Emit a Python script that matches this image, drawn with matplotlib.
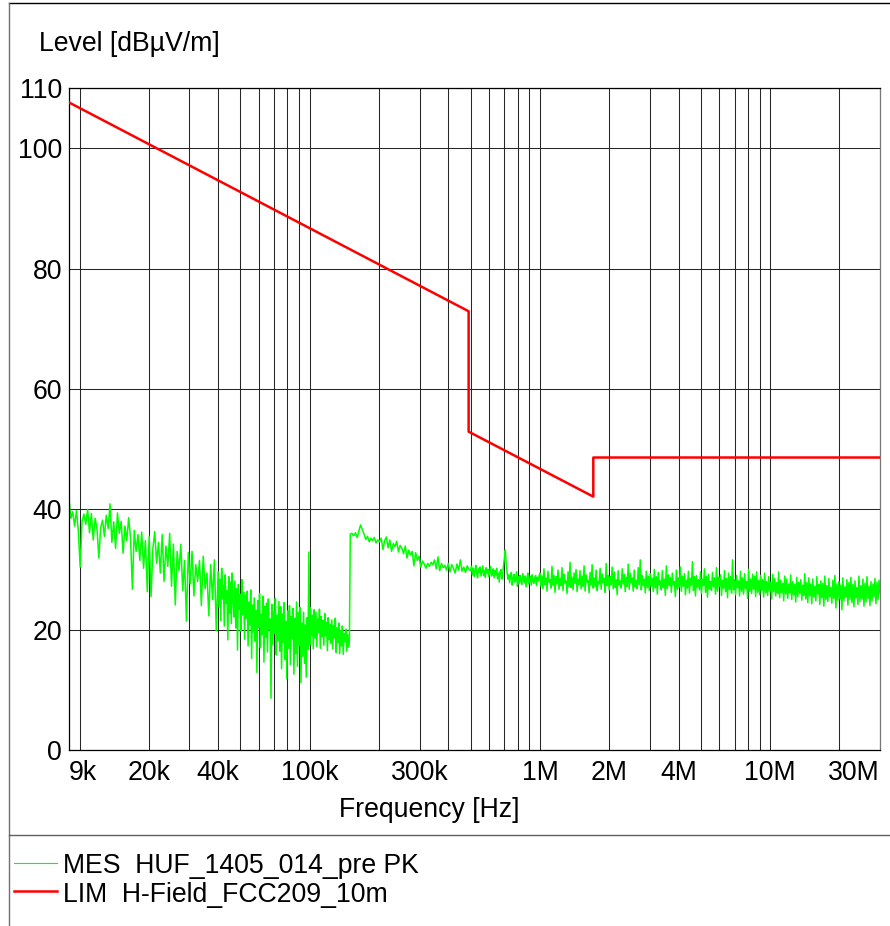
import numpy as np
import matplotlib
matplotlib.use('Agg')
import matplotlib.pyplot as plt
from matplotlib.lines import Line2D

plt.rcParams['font.family'] = ['Liberation Sans', 'DejaVu Sans']

# Limit line H-Field FCC 15.209 @ 10 m (frequency in Hz, level in dBuV/m)
lim_freq = [9e3, 490e3, 490e3, 1.705e6, 1.705e6, 30e6]
lim_level = [107.6, 72.9, 52.9, 42.1, 48.6, 48.6]

# Peak scan, split into sweeps (start Hz, stop Hz, levels in dBuV/m)
sweep_start = [9e3, 40e3, 150e3, 500e3, 1e6]
sweep_stop = [40e3, 150e3, 500e3, 1e6, 30e6]

lev_9k_40k = [
    41.7, 38.5, 39.6, 37.2, 39.8, 36.4, 30.4, 38.0, 39.2, 37.5,
    40.0, 36.1, 39.3, 34.9, 38.5, 36.8, 31.9, 37.0, 38.2, 35.5,
    39.0, 36.8, 40.9, 34.5, 37.9, 33.5, 39.4, 36.0, 38.0, 32.7,
    37.2, 34.8, 38.6, 35.3, 26.7, 36.5, 33.0, 35.8, 31.5, 36.2,
    30.2, 34.8, 26.3, 35.5, 25.5, 33.5, 36.3, 31.0, 34.5, 29.4,
    35.8, 28.0, 33.9, 30.5, 36.0, 27.2, 34.2, 24.1, 33.0, 29.8,
    34.2, 26.5, 31.5, 21.4, 32.8, 27.6, 33.0, 25.6, 30.8, 28.0,
    31.5, 24.0, 32.2, 26.8, 29.4, 22.3, 30.8, 25.0, 31.6, 19.8,
]

lev_40k_150k = [
    29.6, 23.8, 28.4, 21.5, 30.2, 25.1, 27.3, 20.6, 29.1, 24.4,
    26.5, 18.3, 28.8, 22.7, 27.9, 21.0, 29.4, 24.9, 22.1, 28.1,
    20.3, 26.8, 16.6, 27.5, 23.4, 25.9, 19.8, 28.3, 22.5, 26.2,
    18.4, 25.7, 21.9, 26.4, 17.3, 24.6, 20.8, 26.6, 15.2, 24.1,
    19.6, 25.3, 18.1, 23.2, 12.9, 24.8, 20.4, 26.0, 17.0, 22.6,
    19.2, 25.5, 14.6, 23.9, 18.7, 24.4, 16.3, 25.1, 20.0, 21.8,
    8.6, 24.2, 17.6, 23.0, 19.4, 25.2, 15.8, 22.4, 18.2, 24.7,
    16.4, 23.8, 13.5, 22.6, 17.9, 24.5, 15.0, 21.4, 11.8, 23.1,
    16.9, 24.0, 14.2, 22.2, 18.5, 23.5, 12.6, 21.9, 16.0, 24.6,
    13.9, 22.8, 17.4, 23.7, 11.2, 21.1, 15.6, 22.9, 14.4, 20.8,
    12.1, 22.0, 16.7, 32.9, 17.5, 23.6, 19.1, 22.4, 16.8, 23.3,
    18.6, 22.9, 17.2, 21.8, 19.5, 23.4, 16.9, 22.2, 18.8, 21.5,
    17.4, 22.7, 19.0, 21.2, 16.5, 22.0, 18.3, 20.9, 17.7, 21.6,
    16.8, 20.7, 18.6, 21.9, 16.2, 20.3, 17.8, 21.1, 16.0, 19.8,
    17.3, 20.6, 15.9, 19.4, 18.0, 20.1, 16.4, 19.2, 17.1, 18.0,
]

lev_150k_500k = [
    35.9, 36.0, 35.6, 36.1, 35.3, 36.4, 37.4,
    36.6, 35.9, 35.0, 35.5, 34.6, 35.2, 34.8, 35.3, 34.4, 34.9, 34.6,
    35.2, 33.3, 34.8, 35.4, 33.6, 34.9, 33.0, 34.3, 33.8, 34.7,
    32.9, 34.0, 33.5, 32.6, 33.9, 31.9, 33.2, 32.4, 33.0,
    30.6, 32.8, 31.5, 32.2, 30.4, 31.4, 30.9, 30.2, 31.0, 30.5,
    31.2, 30.8, 31.6, 30.1, 32.1, 29.8, 31.0, 30.3, 30.7, 29.9,
    31.0, 29.6, 30.8, 30.2, 29.4, 30.9, 29.9, 31.6, 29.7, 30.4,
    29.5, 30.6, 30.0,
]

lev_500k_1M = [
    29.8, 30.5, 29.1, 30.2, 28.8, 29.9, 30.7, 29.3, 28.6, 30.1,
    29.5, 30.4, 28.9, 29.7, 30.6, 29.0, 29.8, 28.7, 30.3, 29.4,
    30.0, 28.8, 29.6, 30.5, 28.9, 29.2, 30.1, 28.6, 29.8, 29.1,
    30.2, 28.5, 29.4, 27.9, 29.7, 30.0, 28.4, 29.3, 30.8, 31.9,
    33.2, 31.0, 29.6, 28.4, 29.1, 27.8, 28.9, 29.5, 27.4, 28.6,
    29.2, 27.9, 28.3, 29.6, 27.2, 28.8, 27.7, 29.0, 28.1, 27.5,
    29.3, 28.4, 27.8, 28.9, 27.1, 28.5, 29.4, 27.6, 28.2, 28.8,
    27.4, 29.1, 28.0, 27.7, 28.6, 29.0, 27.3, 28.7, 28.1, 28.9,
]

lev_1M_30M = [
    29.4, 27.2, 28.9, 26.8, 30.1, 27.5, 28.6, 26.4, 29.7, 27.9,
    28.3, 26.9, 30.5, 27.4, 29.0, 26.2, 28.8, 27.6, 29.9, 26.7,
    28.5, 27.3, 30.3, 26.5, 29.2, 27.8, 28.1, 26.0, 29.6, 27.1,
    31.2, 27.0, 28.7, 26.6, 29.4, 27.7, 30.0, 26.3, 28.4, 27.5,
    29.8, 26.8, 28.9, 27.2, 30.6, 26.4, 29.1, 27.9, 28.2, 26.1,
    29.5, 27.4, 30.8, 26.9, 28.6, 27.1, 29.9, 26.5, 28.0, 27.6,
    30.2, 26.7, 29.3, 27.8, 28.5, 26.2, 31.0, 27.3, 29.0, 26.6,
    28.8, 27.5, 30.4, 26.8, 29.6, 27.0, 28.3, 25.8, 29.8, 27.4,
    28.1, 26.9, 30.1, 27.6, 29.2, 26.3, 28.7, 27.2, 30.9, 26.7,
    29.4, 27.8, 28.6, 26.4, 29.9, 27.1, 28.2, 26.8, 30.3, 27.5,
    31.6, 26.6, 29.0, 27.3, 28.4, 26.1, 29.7, 27.0, 28.9, 26.5,
    29.3, 27.2, 28.5, 26.3, 30.0, 26.9, 28.8, 25.9, 29.5, 27.4,
    28.1, 26.6, 29.8, 27.0, 28.4, 25.7, 30.6, 26.8, 29.1, 27.3,
    28.7, 26.2, 29.4, 27.5, 28.0, 25.5, 29.9, 26.7, 28.6, 27.1,
    30.4, 26.4, 28.9, 27.2, 29.3, 25.8, 28.2, 26.9, 29.7, 26.1,
    28.5, 27.4, 31.3, 26.5, 28.8, 25.6, 29.0, 27.0, 28.3, 26.6,
    29.6, 26.0, 28.4, 27.3, 30.1, 26.2, 28.9, 25.4, 29.2, 26.8,
    28.0, 26.5, 29.5, 27.1, 28.6, 25.9, 30.3, 26.4, 28.7, 27.2,
    29.1, 25.7, 28.2, 26.9, 29.8, 26.3, 28.5, 25.3, 29.4, 26.7,
    28.8, 26.1, 31.6, 26.6, 28.3, 25.8, 29.0, 27.0, 28.1, 25.6,
    29.7, 26.4, 28.6, 25.9, 29.3, 26.8, 28.0, 25.2, 30.0, 26.3,
    28.4, 26.0, 29.2, 26.7, 28.9, 25.5, 29.6, 26.2, 28.2, 25.8,
    29.0, 26.5, 28.3, 25.4, 29.4, 26.1, 28.0, 25.7, 28.8, 26.4,
    27.9, 25.1, 29.2, 26.3, 28.5, 25.6, 27.8, 26.0, 29.6, 25.3,
    28.2, 26.2, 27.7, 24.8, 28.9, 25.9, 28.4, 25.2, 27.6, 26.1,
    29.1, 25.0, 28.0, 25.8, 27.5, 24.6, 28.7, 25.5, 27.9, 26.0,
    28.3, 24.9, 27.4, 25.7, 29.3, 25.1, 27.8, 24.5, 28.6, 25.6,
    27.6, 24.3, 28.4, 25.4, 27.2, 24.8, 28.8, 25.9, 27.5, 24.2,
    28.1, 25.3, 27.7, 23.9, 28.9, 25.0, 27.3, 24.7, 28.5, 25.5,
    27.0, 24.4, 28.2, 25.2, 29.0, 23.6, 27.6, 24.9, 28.0, 25.1,
    27.4, 23.3, 28.6, 24.8, 27.1, 25.4, 28.3, 24.1, 27.8, 25.0,
    28.7, 24.5, 27.5, 23.8, 28.1, 25.3, 27.0, 24.2, 28.9, 24.7,
    27.3, 25.1, 28.4, 23.9, 27.7, 24.6, 28.8, 25.2, 27.2, 24.0,
    28.0, 24.8, 27.6, 25.5, 28.5, 24.3, 27.9, 25.0, 28.2, 26.0,
]

sweep_levels = [lev_9k_40k, lev_40k_150k, lev_150k_500k, lev_500k_1M, lev_1M_30M]

xtick_pos = [9e3, 20e3, 40e3, 100e3, 300e3, 1e6, 2e6, 4e6, 10e6, 30e6]
xtick_lab = ['9k', '20k', '40k', '100k', '300k', '1M', '2M', '4M', '10M', '30M']
ytick_pos = [0, 20, 40, 60, 80, 100, 110]

mes_name = 'MES  HUF_1405_014_pre PK'
lim_name = 'LIM  H-Field_FCC209_10m'

# Build the frequency axis of each sweep (log spaced between start and stop)
mes_freq, mes_level = [], []
for i, (f0, f1, lev) in enumerate(zip(sweep_start, sweep_stop, sweep_levels)):
    last = i == len(sweep_levels) - 1
    mes_freq.append(np.geomspace(f0, f1, len(lev), endpoint=last))
    mes_level.append(np.asarray(lev))
mes_freq = np.concatenate(mes_freq)
mes_level = np.concatenate(mes_level)

W, H = 890, 926
FS = 19.2
GREEN = '#00ff00'
RED = '#ff0000'
GRID = '#262626'

fig = plt.figure(figsize=(W / 100, H / 100), dpi=100)
ax = fig.add_axes([69 / W, 1 - 750 / H, 811 / W, 662 / H])

ax.plot(mes_freq, mes_level, color=GREEN, lw=1.1, zorder=2)
ax.plot(lim_freq, lim_level, color=RED, lw=1.8, zorder=3)

ax.set_xscale('log')
ax.set_xlim(9e3, 30e6)
ax.set_ylim(0, 110)

minor = [m * 10 ** e for e in range(4, 8) for m in range(1, 10)]
minor = [f for f in minor if 9e3 < f <= 30e6]
ax.set_xticks(minor, minor=True)
ax.set_xticks(xtick_pos)
ax.set_xticklabels(xtick_lab, fontsize=FS)
ax.xaxis.set_minor_formatter(matplotlib.ticker.NullFormatter())
ax.set_yticks(ytick_pos)
ax.set_yticklabels([str(v) for v in ytick_pos], fontsize=FS)
ax.tick_params(which='both', length=0)
ax.tick_params(axis='x', pad=7)
ax.tick_params(axis='y', pad=5)

labels = ax.get_xticklabels()
labels[0].set_ha('left')
labels[-1].set_ha('right')

ax.set_axisbelow(True)
ax.grid(True, which='both', axis='x', color=GRID, lw=0.75)
ax.grid(True, which='major', axis='y', color=GRID, lw=0.75)
for side in ['left', 'bottom', 'top']:
    ax.spines[side].set_color('black')
    ax.spines[side].set_linewidth(0.9)
ax.spines['right'].set_color('#777777')
ax.spines['right'].set_linewidth(0.9)

fig.text(39 / W, 1 - 51 / H, 'Level [dBµV/m]', fontsize=FS, va='baseline')
fig.text(429 / W, 1 - 817 / H, 'Frequency [Hz]', fontsize=FS,
         ha='center', va='baseline')

# Outer frame and separator above the legend block
fig.add_artist(Line2D([9 / W, 1], [1 - 3 / H] * 2, transform=fig.transFigure,
                      color='black', lw=1.0))
fig.add_artist(Line2D([9 / W] * 2, [0, 1 - 3 / H], transform=fig.transFigure,
                      color='#707070', lw=1.0))
fig.add_artist(Line2D([9 / W, 1], [1 - 835 / H] * 2, transform=fig.transFigure,
                      color='#606060', lw=1.0))

# Legend entries
fig.add_artist(Line2D([14 / W, 57 / W], [1 - 863 / H] * 2,
                      transform=fig.transFigure, color=GREEN, lw=0.8))
fig.text(63 / W, 1 - 873 / H, mes_name, fontsize=FS, va='baseline')
fig.add_artist(Line2D([14 / W, 57 / W], [1 - 891 / H] * 2,
                      transform=fig.transFigure, color=RED, lw=1.8))
fig.text(63 / W, 1 - 901.5 / H, lim_name, fontsize=FS, va='baseline')

fig.savefig('out.png', dpi=100)
